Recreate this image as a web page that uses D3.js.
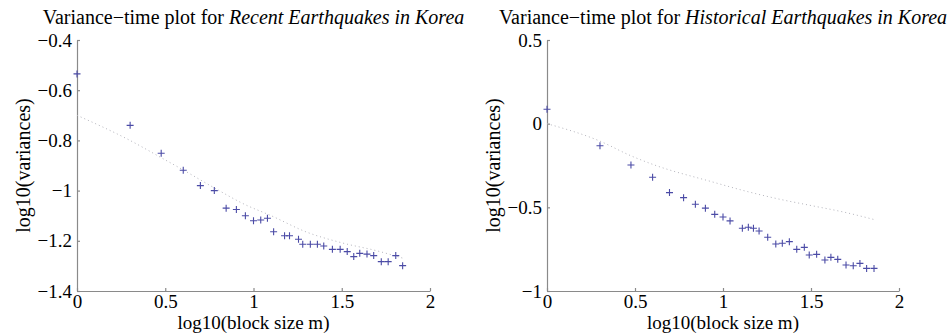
<!DOCTYPE html>
<html lang="en">
<head>
  <meta charset="UTF-8">
  <title>Variance-time plots</title>
  <style>
    body { margin: 0; background: #fff; }
    svg { display: block; }
    text { font-family: "Liberation Serif", "DejaVu Serif", serif; fill: #000; }
  </style>
</head>
<body>
  <script src="https://d3js.org/d3.v7.min.js"></script>
  <script>
    // log10 block size and log10 variance
    const recentX = [0, 0.301, 0.477, 0.602, 0.699, 0.778, 0.845, 0.903, 0.954, 1.0, 1.041, 1.079,
      1.114, 1.176, 1.204, 1.255, 1.279, 1.322, 1.362, 1.398, 1.447, 1.491, 1.531, 1.568, 1.602,
      1.643, 1.681, 1.724, 1.763, 1.806, 1.845];
    const recentY = [-0.535, -0.74, -0.851, -0.919, -0.98, -1.0, -1.07, -1.075, -1.1, -1.12, -1.117, -1.11,
      -1.164, -1.18, -1.18, -1.194, -1.214, -1.214, -1.214, -1.221, -1.234, -1.234, -1.243, -1.263, -1.25,
      -1.253, -1.259, -1.283, -1.283, -1.259, -1.299];
    const recentFitX = [0, 0.3, 0.48, 0.6, 0.78, 0.95, 1.1, 1.3, 1.5, 1.7, 1.85];
    const recentFitY = [-0.70, -0.80, -0.87, -0.917, -0.99, -1.055, -1.10, -1.165, -1.208, -1.24, -1.27];

    const histX = [0, 0.301, 0.477, 0.6, 0.696, 0.776, 0.843, 0.9, 0.953, 1.0, 1.04,
      1.11, 1.144, 1.173, 1.205, 1.254, 1.3, 1.337, 1.377, 1.419, 1.462, 1.49, 1.532,
      1.579, 1.613, 1.652, 1.699, 1.74, 1.778, 1.816, 1.858];
    const histY = [0.086, -0.132, -0.247, -0.32, -0.412, -0.442, -0.482, -0.505, -0.542, -0.558, -0.581,
      -0.625, -0.619, -0.625, -0.641, -0.679, -0.719, -0.715, -0.705, -0.751, -0.739, -0.785, -0.781,
      -0.815, -0.799, -0.811, -0.845, -0.849, -0.835, -0.865, -0.865];
    const histFitX = [0, 0.3, 0.477, 0.6, 0.936, 1.125, 1.315, 1.504, 1.693, 1.855];
    const histFitY = [0, -0.104, -0.192, -0.243, -0.347, -0.402, -0.45, -0.49, -0.53, -0.572];

    const xTicks = [0, 0.5, 1, 1.5, 2];
    const recentYTicks = [-0.4, -0.6, -0.8, -1, -1.2, -1.4];
    const histYTicks = [0.5, 0, -0.5, -1];

    const W = 948, H = 333;
    const FS = "20px";
    const svg = d3.select("body").append("svg")
      .attr("width", W)
      .attr("height", H);

    const fmt = d => String(d).replace("-", "\u2212");

    function drawPanel(o) {
      const x = d3.scaleLinear().domain([0, 2]).range([o.left, o.right]);
      const y = d3.scaleLinear().domain(o.yDomain).range([291, 40]);
      const g = svg.append("g");

      // title: regular part + italic part
      const title = g.append("text")
        .attr("x", (o.left + o.right) / 2)
        .attr("y", 24)
        .attr("text-anchor", "middle")
        .style("font-size", FS);
      title.append("tspan").text("Variance\u2212time plot for ");
      title.append("tspan").style("font-style", "italic").text(o.subject);

      // axes, ticks pointing inward
      const ax = g.append("g")
        .attr("transform", `translate(0,${y.range()[0]})`)
        .call(d3.axisBottom(x).tickValues(xTicks).tickFormat(fmt)
          .tickSizeInner(-3).tickSizeOuter(0).tickPadding(3));
      const ay = g.append("g")
        .attr("transform", `translate(${o.left},0)`)
        .call(d3.axisLeft(y).tickValues(o.yTicks).tickFormat(fmt)
          .tickSizeInner(-3).tickSizeOuter(0).tickPadding(5));
      [ax, ay].forEach(a => {
        a.selectAll("path, line").attr("stroke", "#8a8a8a").attr("stroke-width", 1.2);
        a.selectAll("text")
          .style("font-family", '"Liberation Serif", serif')
          .style("font-size", "19px")
          .attr("fill", "#000");
      });

      g.append("text")
        .attr("x", (o.left + o.right) / 2)
        .attr("y", 328.6)
        .attr("text-anchor", "middle")
        .style("font-size", "19px")
        .text("log10(block size m)");

      g.append("text")
        .attr("transform", `translate(${o.left - 54},${(40 + 291) / 2}) rotate(-90)`)
        .attr("text-anchor", "middle")
        .attr("dy", "0.35em")
        .style("font-size", FS)
        .text("log10(variances)");

      // fitted curve (dotted)
      const fit = o.fitX.map((v, i) => [v, o.fitY[i]]);
      g.append("path")
        .datum(fit)
        .attr("fill", "none")
        .attr("stroke", "#b4b4bc")
        .attr("stroke-width", 1)
        .attr("stroke-dasharray", "1,3")
        .attr("d", d3.line().x(d => x(d[0])).y(d => y(d[1])).curve(d3.curveMonotoneX));

      // plus markers
      const pts = o.xs.map((v, i) => [v, o.ys[i]]);
      g.append("g")
        .selectAll("path")
        .data(pts)
        .join("path")
        .attr("transform", d => `translate(${x(d[0])},${y(d[1])})`)
        .attr("d", "M-3.5,0H3.5M0,-3.5V3.5")
        .attr("stroke", "#4b4ba6")
        .attr("stroke-width", 1.1)
        .attr("fill", "none");
    }

    drawPanel({
      left: 77, right: 430,
      yDomain: [-1.4, -0.4], yTicks: recentYTicks,
      subject: "Recent Earthquakes in Korea",
      xs: recentX, ys: recentY, fitX: recentFitX, fitY: recentFitY
    });

    drawPanel({
      left: 547, right: 899,
      yDomain: [-1, 0.5], yTicks: histYTicks,
      subject: "Historical Earthquakes in Korea",
      xs: histX, ys: histY, fitX: histFitX, fitY: histFitY
    });
  </script>
</body>
</html>
